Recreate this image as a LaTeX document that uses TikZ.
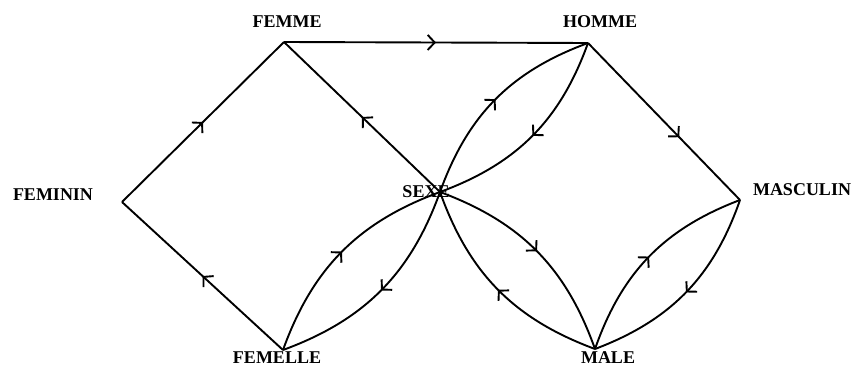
\documentclass[tikz,border=0pt]{standalone}
\usepackage{fontspec}
\setmainfont{Liberation Serif}
\usetikzlibrary{arrows.meta,decorations.markings}

\tikzset{
    link/.style={line width=1.9pt, postaction={decorate},
        decoration={markings, mark=at position #1 with {\arrow{Straight Barb[length=7pt,width=15pt,line width=1.9pt]}}}},
    link/.default=0.5,
    word/.style={font=\bfseries\fontsize{18}{20}\selectfont, inner sep=0pt},
}

\begin{document}
\begin{tikzpicture}[x=1pt, y=-1pt]
    \useasboundingbox (0,0) rectangle (858,369);

    % vertices
    \coordinate (femme) at (284,42);
    \coordinate (homme) at (588,43);
    \coordinate (feminin) at (122,202);
    \coordinate (sexe) at (440,192);
    \coordinate (masculin) at (740,200);
    \coordinate (femelle) at (283,350);
    \coordinate (male) at (595,349);

    % words
    \node[word] (femmelabel) at (287,22) {FEMME};
    \node[word] (hommelabel) at (600,22) {HOMME};
    \node[word] (femininlabel) at (53,195) {FEMININ};
    \node[word] (sexelabel) at (426,192) {SEXE};
    \node[word] (masculinlabel) at (802,190) {MASCULIN};
    \node[word] (femellelabel) at (277,358) {FEMELLE};
    \node[word] (malelabel) at (608,358) {MALE};

    % straight links
    \draw[link] (femme) -- (homme);
    \draw[link] (feminin) -- (femme);
    \draw[link] (femelle) -- (feminin);
    \draw[link] (sexe) -- (femme);
    \draw[link=0.6] (homme) -- (masculin);

    % curved links, both ways
    \foreach \a/\b in {sexe/homme, homme/sexe, femelle/sexe, sexe/femelle,
                       sexe/male, male/sexe, male/masculin, masculin/male} {
        \draw[link] (\a) to[bend left=25] (\b);
    }
\end{tikzpicture}
\end{document}
